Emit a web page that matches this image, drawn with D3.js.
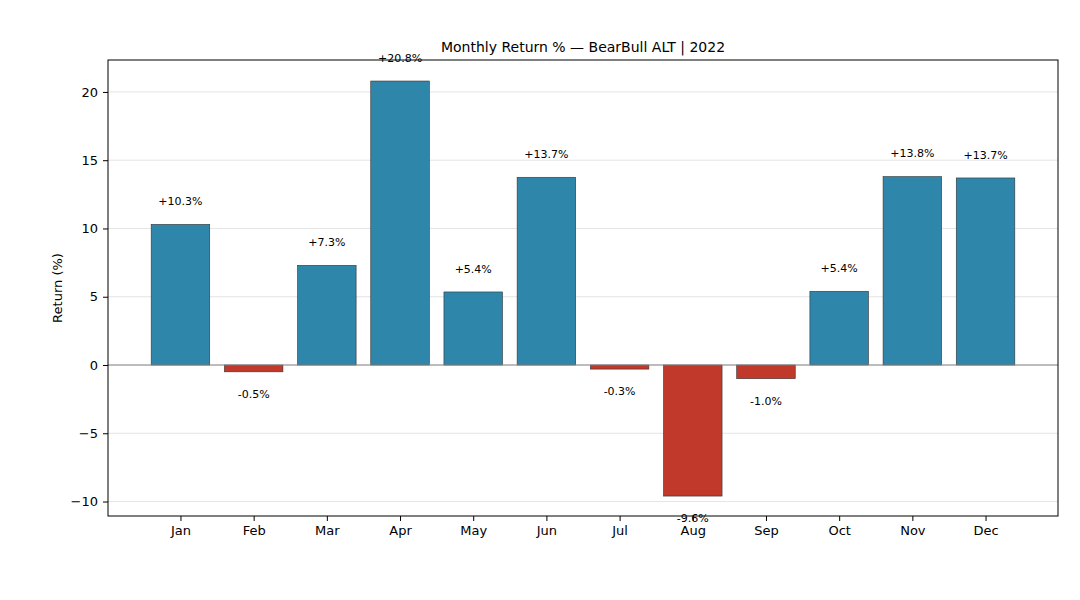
<!DOCTYPE html>
<html><head><meta charset="utf-8">
<script src="https://cdn.jsdelivr.net/npm/d3@7"></script>
<style>body{margin:0;background:#fff}</style>
</head><body>
<svg id="chart" width="1080" height="600"></svg>
<script>
var months = ["Jan","Feb","Mar","Apr","May","Jun","Jul","Aug","Sep","Oct","Nov","Dec"];
var returns = [10.3,-0.5,7.3,20.8,5.35,13.75,-0.3,-9.6,-1.0,5.4,13.8,13.7];
var labels = ["+10.3%","-0.5%","+7.3%","+20.8%","+5.4%","+13.7%","-0.3%","-9.6%","-1.0%","+5.4%","+13.8%","+13.7%"];
var yTicks = [-10,-5,0,5,10,15,20];

var margin = {top: 60, right: 22, bottom: 84, left: 108},
    width = 1080 - margin.left - margin.right,
    height = 600 - margin.top - margin.bottom;

var svg = d3.select("#chart").append("g")
  .attr("transform", `translate(${margin.left},${margin.top})`);

var x = d3.scaleLinear().domain([-0.99, 11.99]).range([0, width]);
var y = d3.scaleLinear().domain([-11.06, 22.34]).range([height, 0]);

// grid
svg.selectAll(".grid").data(yTicks).enter().append("line")
  .attr("x1", 0).attr("x2", width)
  .attr("y1", d => y(d)).attr("y2", d => y(d))
  .attr("stroke", "#dddddd").attr("stroke-width", 0.8);

// bars
svg.selectAll(".bar").data(returns).enter().append("rect")
  .attr("x", (d, i) => x(i - 0.4))
  .attr("width", x(0.8) - x(0))
  .attr("y", d => y(Math.max(0, d)))
  .attr("height", d => Math.abs(y(d) - y(0)))
  .attr("fill", d => d >= 0 ? "#2e86ab" : "#c0392b")
  .attr("stroke", "#333").attr("stroke-width", 0.6);

// zero line
svg.append("line").attr("x1", 0).attr("x2", width)
  .attr("y1", y(0)).attr("y2", y(0))
  .attr("stroke", "#888").attr("stroke-width", 1);

// value labels
svg.selectAll(".lbl").data(returns).enter().append("text")
  .attr("x", (d, i) => x(i))
  .attr("y", d => d >= 0 ? y(d) - 23 : y(d) + 22)
  .attr("dy", "0.35em")
  .attr("text-anchor", "middle")
  .attr("font-family", "DejaVu Sans").attr("font-size", "11px")
  .text((d, i) => labels[i]);

// axes
var xAxis = d3.axisBottom(x).tickValues(d3.range(12)).tickFormat(i => months[i]).tickSize(5).tickPadding(5);
var yAxis = d3.axisLeft(y).tickValues(yTicks).tickFormat(d => d < 0 ? "\u2212" + Math.abs(d) : d).tickSize(5).tickPadding(5);

var gx = svg.append("g").attr("transform", `translate(0,${height})`).call(xAxis);
var gy = svg.append("g").call(yAxis);
[gx, gy].forEach(g => {
  g.selectAll("text").attr("font-family", "DejaVu Sans").attr("font-size", "13px").attr("fill", "#000");
  g.selectAll("line").attr("stroke", "#000");
  g.select(".domain").remove();
});

svg.append("rect").attr("width", width).attr("height", height)
  .attr("fill", "none").attr("stroke", "#000").attr("stroke-width", 1);

svg.append("text").attr("x", width / 2).attr("y", -8)
  .attr("text-anchor", "middle")
  .attr("font-family", "DejaVu Sans").attr("font-size", "14px")
  .text("Monthly Return % \u2014 BearBull ALT | 2022");

svg.append("text")
  .attr("transform", `translate(-46,${height / 2}) rotate(-90)`)
  .attr("text-anchor", "middle")
  .attr("font-family", "DejaVu Sans").attr("font-size", "13px")
  .text("Return (%)");
</script>
</body></html>
